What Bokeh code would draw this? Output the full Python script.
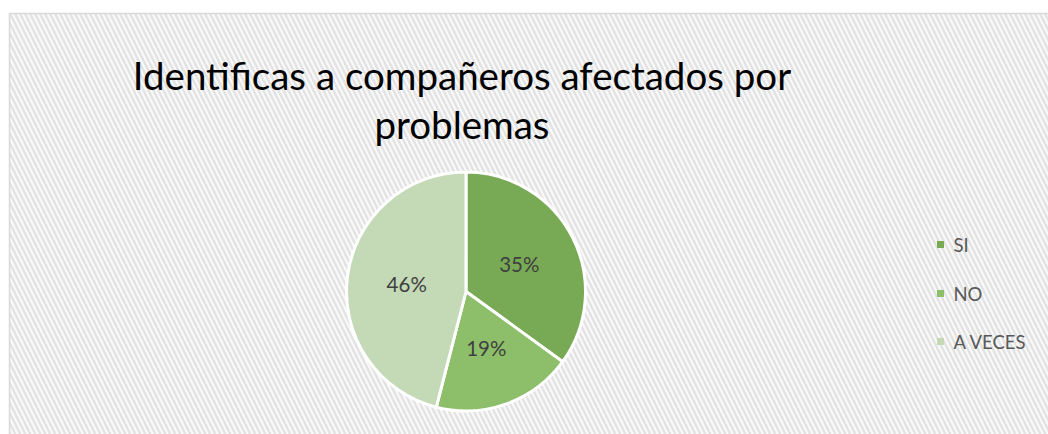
import numpy as np
from bokeh.plotting import figure
from bokeh.models import Range1d
from bokeh.core.properties import value
from bokeh.embed import file_html
from bokeh.resources import INLINE

# Data
categories = ["SI", "NO", "A VECES"]
percent = [35, 19, 46]
labels = ["35%", "19%", "46%"]
colors = ["#78aa55", "#8dbf6a", "#c4d9b6"]
title_lines = ["Identificas a compañeros afectados por", "problemas"]

W, H = 1048, 434
p = figure(width=W, height=H, output_backend="svg", toolbar_location=None,
           x_range=Range1d(0, W), y_range=Range1d(0, H), min_border=0)
p.axis.visible = False
p.grid.visible = False
p.outline_line_color = None
p.background_fill_color = "white"
p.border_fill_color = "white"

# Chart area with hatched background
p.quad(left=[9], right=[W + 5], bottom=[-5], top=[H - 13], fill_color="#fafafa",
       line_color="#d9d9d9", line_width=1.5,
       hatch_pattern="\\", hatch_color="#e3e3e3", hatch_weight=2.5, hatch_scale=10)

# Title
font = value("Lato")
p.text(x=[461.5, 461.5], y=[H - 74, H - 123], text=title_lines, text_font=font,
       text_font_size="38.5px", text_color="black", text_align="center",
       text_baseline="alphabetic")

# Pie
cx, cy, r = 465.5, H - 291.0, 119.5
frac = np.array(percent, dtype=float) / sum(percent)
cum = np.concatenate([[0], np.cumsum(frac)])
start = np.pi / 2 - cum[:-1] * 2 * np.pi
end = np.pi / 2 - cum[1:] * 2 * np.pi
p.wedge(x=cx, y=cy, radius=r, start_angle=start, end_angle=end, direction="clock",
        fill_color=colors, line_color="white", line_width=3)

mid = (start + end) / 2
lx = cx + 0.5 * r * np.cos(mid)
ly = cy + 0.5 * r * np.sin(mid)
p.text(x=lx, y=ly, text=labels, text_font=font, text_font_size="20.5px",
       text_color="#404040", text_align="center", text_baseline="middle")

# Legend
leg_y = H - np.array([244.0, 293.0, 341.0])
p.scatter(x=[940] * 3, y=leg_y, marker="square", size=7, fill_color=colors,
          line_color=None)
p.text(x=[953] * 3, y=leg_y, text=categories, text_font=font, text_font_size="18.5px",
       text_color="#595959", text_align="left", text_baseline="middle")

open("out.html", "w").write(file_html(p, INLINE))
